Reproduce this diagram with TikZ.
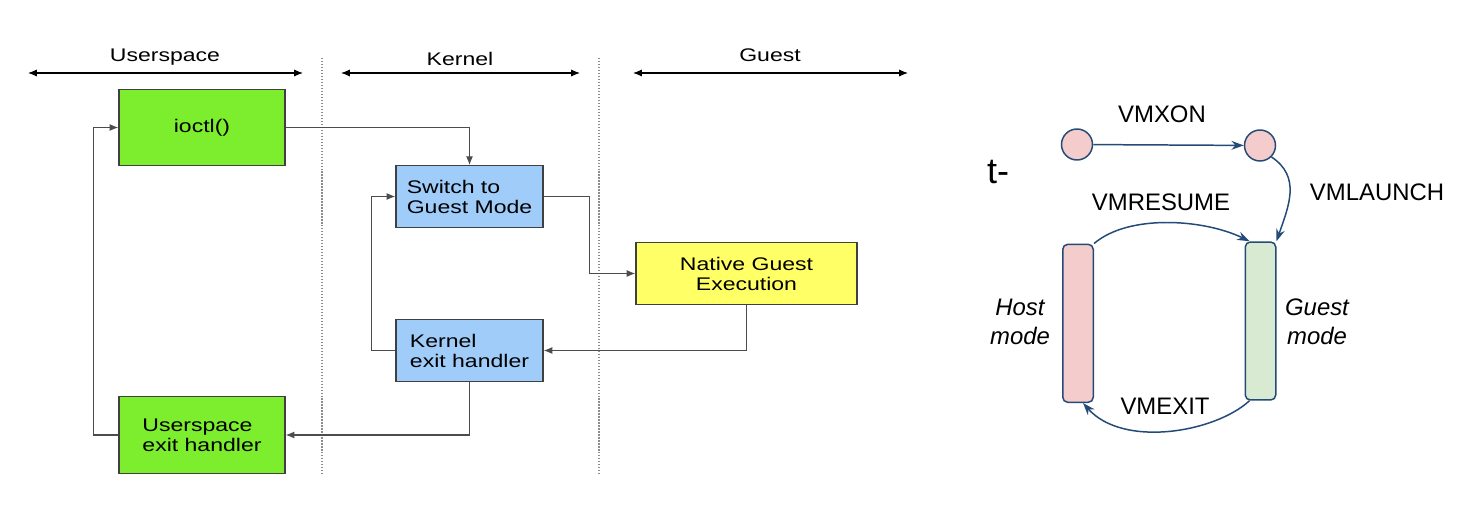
\documentclass[tikz,border=0pt]{standalone}
\usepackage{fontspec}
\setmainfont{Liberation Sans}
\newfontfamily\boxfont[FakeStretch=1.26]{Liberation Sans}
\usepackage{xcolor}
\usepackage{tikz}
\usetikzlibrary{positioning,arrows.meta}

\definecolor{userGreen}{RGB}{124,238,46}
\definecolor{kernelBlue}{RGB}{160,204,250}
\definecolor{guestYellow}{RGB}{255,255,102}
\definecolor{hostPink}{RGB}{244,204,204}
\definecolor{modeGreen}{RGB}{217,234,211}
\definecolor{vmxBlue}{RGB}{36,75,120}

\begin{document}
\begin{tikzpicture}[
    x=0.02cm, y=-0.02cm,
    >={Latex[length=5pt,width=4pt]},
    header/.style={font=\boxfont\fontsize{10.4}{11.4}\selectfont, anchor=base, inner sep=0pt},
    span/.style={<->, line width=0.6pt, black},
    divider/.style={densely dotted, line width=0.7pt, black!45},
    block/.style={
        draw=black!75, line width=0.7pt,
        font=\boxfont\fontsize{10.4}{11.4}\selectfont,
        inner sep=0pt
    },
    userbox/.style={block, fill=userGreen, minimum width=3.32cm, minimum height=1.53cm},
    kernbox/.style={block, fill=kernelBlue, minimum width=2.94cm, minimum height=1.23cm},
    guestbox/.style={block, fill=guestYellow, minimum width=4.42cm, minimum height=1.23cm},
    flow/.style={->, line width=0.7pt, black!70},
    state/.style={circle, draw=vmxBlue, fill=hostPink, line width=0.85pt, minimum size=0.62cm, inner sep=0pt},
    modebar/.style={draw=vmxBlue, rounded corners=0.1cm, line width=0.85pt, minimum width=0.61cm, minimum height=3.16cm, inner sep=0pt},
    vmlabel/.style={font=\fontsize{13.6}{16.7}\selectfont, anchor=base, inner sep=0pt},
    modelabel/.style={font=\itshape\fontsize{13.6}{16.7}\selectfont, align=center, inner sep=0pt},
    vmflow/.style={-{Stealth[length=7pt,width=5pt]}, line width=0.85pt, vmxBlue}
]

\useasboundingbox (0,0) rectangle (1474,510);

% ---- Column headers ----

% Userspace
\coordinate (us-l) at (28,73);
\coordinate (us-r) at (303,73);
\draw[span] (us-l) -- (us-r);
\node[header] (userspace) at (165,61.7) {Userspace};

% Kernel
\coordinate (kn-l) at (341,73);
\coordinate (kn-r) at (580,73);
\draw[span] (kn-l) -- (kn-r);
\node[header] (kernel) at (460,66) {Kernel};

% Guest
\coordinate (gs-l) at (633,73);
\coordinate (gs-r) at (908,73);
\draw[span] (gs-l) -- (gs-r);
\node[header] (guest-head) at (770,61.7) {Guest};

% Dividers
\draw[divider] (322,58) -- (322,475);
\draw[divider] (599,58) -- (599,475);


% ---- Boxes ----

\node[userbox, align=center] (ioctl) at (202,127.5) {ioctl()};
\node[kernbox, align=left] (switch) at (469.5,196.5) {Switch to\\Guest Mode};
\node[guestbox, align=center] (native) at (746.5,273.5) {Native Guest\\Execution};
\node[kernbox, align=left] (kexit) at (469.5,350.5) {Kernel\\exit handler};
\node[userbox, align=left] (uexit) at (202,435) {Userspace\\exit handler};


% ---- Flow ----

\draw[flow] (ioctl.east) -| (switch.north);
\draw[flow] (switch.east) -- ++(46,0) |- (native.west);
\draw[flow] (native.south) |- (kexit.east);
\draw[flow] (kexit.west) -- ++(-24,0) |- (switch.west);
\draw[flow] (kexit.south) |- (uexit.east);
\draw[flow] (uexit.west) -- ++(-25,0) |- (ioctl.west);


% ---- VMX transitions ----

\node[anchor=base, inner sep=0pt, font=\fontsize{20.5}{24}\selectfont] (tmark) at (998,183) {t-};

\node[state] (off) at (1077,144.5) {};
\node[state] (on) at (1260,145.5) {};

\node[modebar, fill=hostPink] (host) at (1078,323.3) {};
\node[modebar, fill=modeGreen] (guest) at (1260.5,321) {};

\node[modelabel] (hostlbl) at (1020,322) {Host\\mode};
\node[modelabel] (guestlbl) at (1317,322) {Guest\\mode};

\draw[vmflow] (off) -- (on);
\node[vmlabel] (vmxon) at (1162,123) {VMXON};

\draw[vmflow] (on.south east) .. controls +(30,20) and +(12,-35) .. (guest.north east);
\node[vmlabel] (vmlaunch) at (1377,200) {VMLAUNCH};

\draw[vmflow] (host.north east) .. controls +(35,-30) and +(-45,-22) .. ([xshift=0.1cm]guest.north west);
\node[vmlabel] (vmresume) at (1161,210) {VMRESUME};

\draw[vmflow] ([xshift=0.1cm]guest.south west) .. controls +(-35,32) and +(40,45) .. ([xshift=0.1cm]host.south);
\node[vmlabel] (vmexit) at (1165,414) {VMEXIT};

\end{tikzpicture}
\end{document}
